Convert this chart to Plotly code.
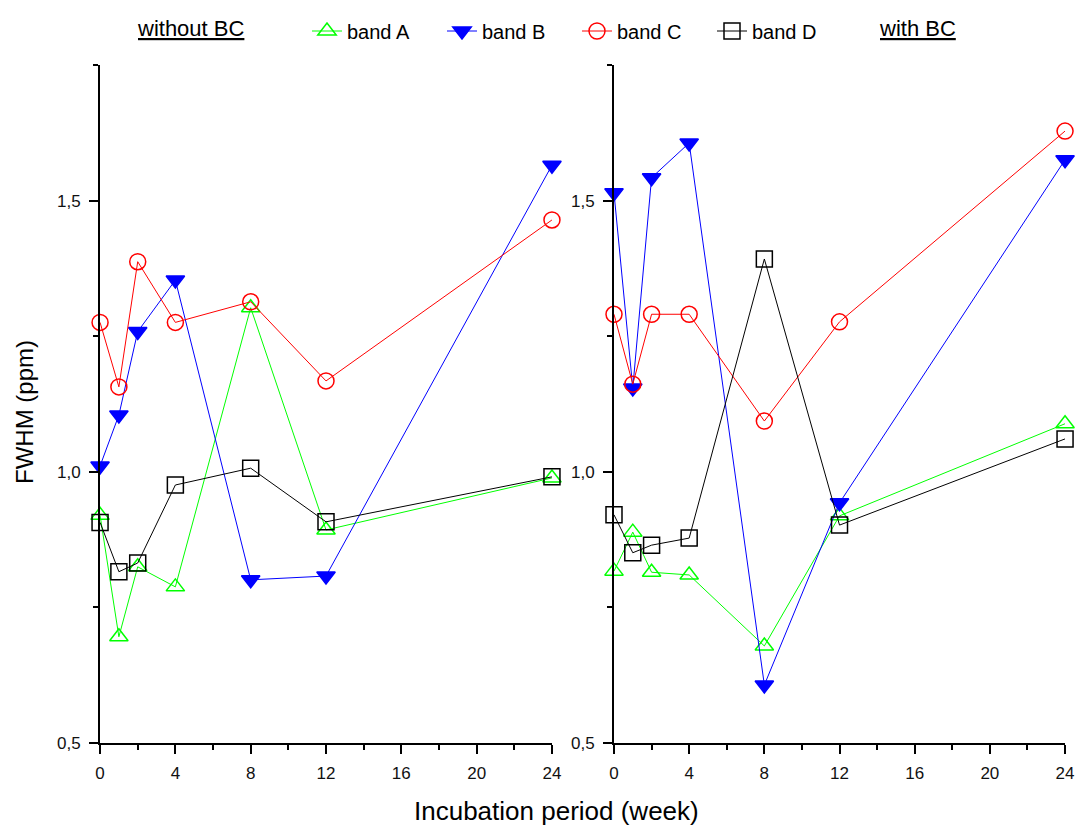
import plotly.graph_objects as go

weeks = [0, 1, 2, 4, 8, 12, 24]

# without BC
a_wo = [0.920, 0.696, 0.825, 0.788, 1.303, 0.893, 0.989]
b_wo = [1.011, 1.105, 1.259, 1.354, 0.801, 0.808, 1.566]
c_wo = [1.276, 1.157, 1.388, 1.276, 1.314, 1.168, 1.465]
d_wo = [0.907, 0.816, 0.832, 0.976, 1.007, 0.908, 0.991]

# with BC
a_w = [0.817, 0.889, 0.815, 0.810, 0.679, 0.919, 1.089]
b_w = [1.515, 1.155, 1.543, 1.607, 0.607, 0.943, 1.576]
c_w = [1.291, 1.162, 1.291, 1.291, 1.094, 1.277, 1.629]
d_w = [0.921, 0.851, 0.865, 0.878, 1.393, 0.902, 1.061]

band_names = ["band A", "band B", "band C", "band D"]
colors = ["#00ff00", "#0000ff", "#ff0000", "#000000"]
symbols = ["triangle-up-open", "triangle-down", "circle-open", "square-open"]

y_tickvals = [0.5, 1.0, 1.5]
y_ticktext = ["0,5", "1,0", "1,5"]
x_tickvals = [0, 4, 8, 12, 16, 20, 24]

fig = go.Figure()

left = [a_wo, b_wo, c_wo, d_wo]
right = [a_w, b_w, c_w, d_w]

for i in range(4):
    mk = dict(symbol=symbols[i], size=16, color=colors[i],
              line=dict(color=colors[i], width=1.5))
    fig.add_trace(go.Scatter(x=weeks, y=left[i], mode="lines+markers",
                             name=band_names[i], line=dict(color=colors[i], width=1),
                             marker=mk, xaxis="x", yaxis="y", cliponaxis=False))
    fig.add_trace(go.Scatter(x=weeks, y=right[i], mode="lines+markers",
                             name=band_names[i], showlegend=False,
                             line=dict(color=colors[i], width=1),
                             marker=mk, xaxis="x2", yaxis="y2", cliponaxis=False))

font_family = "Arial, Liberation Sans, sans-serif"

def xaxis(domain, anchor):
    return dict(domain=domain, anchor=anchor, range=[0, 24],
                tickvals=x_tickvals, ticks="outside", ticklen=9, tickwidth=2,
                tickcolor="black", showline=True, linecolor="black", linewidth=2,
                showgrid=False, zeroline=False, automargin=False,
                ticklabelstandoff=5,
                tickfont=dict(size=17, color="#111", family=font_family),
                minor=dict(dtick=2, tick0=0, ticks="outside", ticklen=5,
                           tickwidth=2, tickcolor="black", showgrid=False))

def yaxis(anchor):
    return dict(domain=[0.1027, 0.9209], anchor=anchor, range=[0.5, 1.75],
                tickvals=y_tickvals, ticktext=y_ticktext, ticks="outside",
                ticklen=9, tickwidth=2, tickcolor="black", showline=True,
                linecolor="black", linewidth=2, showgrid=False, zeroline=False,
                automargin=False, ticklabelstandoff=5,
                tickfont=dict(size=17, color="#111", family=font_family),
                minor=dict(dtick=0.25, tick0=0.5, ticks="outside", ticklen=5,
                           tickwidth=2, tickcolor="black", showgrid=False))

def label(text, x, y, size, angle=0):
    return dict(text=text, x=x / 1077, y=1 - y / 828, xref="paper", yref="paper",
                xanchor="center", yanchor="middle", showarrow=False,
                textangle=angle, font=dict(size=size, family=font_family))

fig.update_layout(
    width=1077, height=828,
    margin=dict(l=0, r=0, t=0, b=0, autoexpand=False),
    paper_bgcolor="white", plot_bgcolor="white",
    font=dict(family=font_family, color="black"),
    xaxis=xaxis([0.0929, 0.5125], "y"),
    yaxis=yaxis("x"),
    xaxis2=xaxis([0.5701, 0.9889], "y2"),
    yaxis2=yaxis("x2"),
    legend=dict(orientation="h", x=307 / 1077, y=1 - 31 / 828,
                xanchor="left", yanchor="middle",
                font=dict(size=20, family=font_family, color="black"),
                entrywidth=90, entrywidthmode="pixels",
                bgcolor="rgba(0,0,0,0)"),
    annotations=[
        label("<u>without BC</u>", 190, 28, 22),
        label("<u>with BC</u>", 917, 28, 22),
        label("FWHM (ppm)", 24, 412, 24, -90),
        label("Incubation period (week)", 556, 811, 26),
    ],
)

fig.write_html("out.html",
               config={"displayModeBar": False},
               post_script="document.body.style.margin='0';"
                           "document.body.style.padding='0';"
                           "document.body.style.overflow='hidden';")
